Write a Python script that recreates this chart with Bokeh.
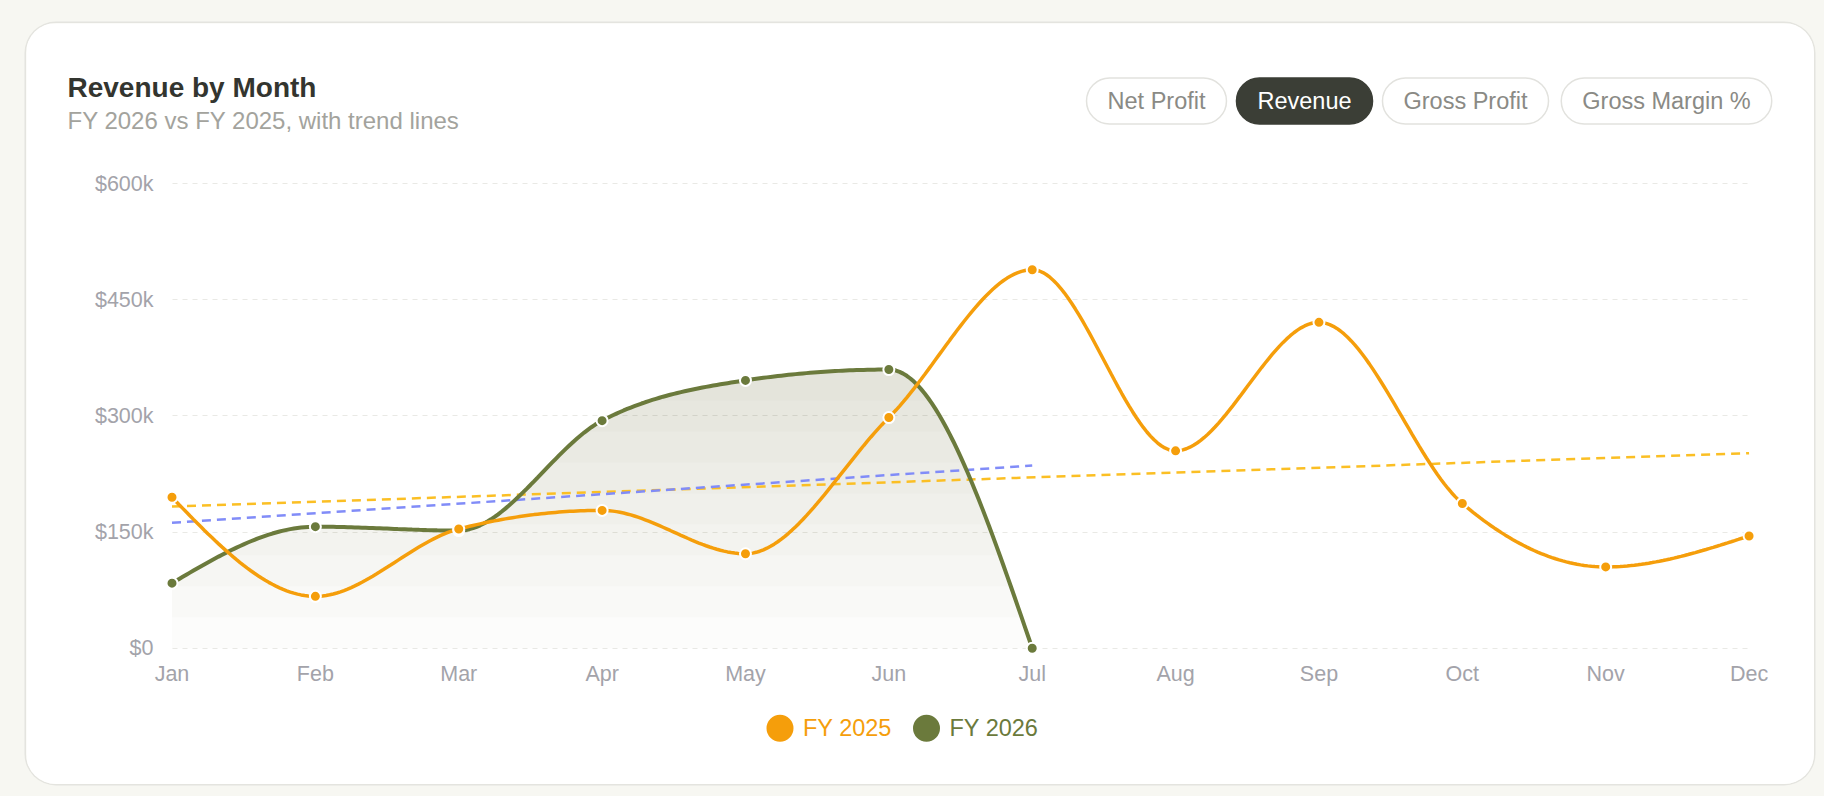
import numpy as np
from bokeh.plotting import figure
from bokeh.layouts import column
from bokeh.models import Range1d, FixedTicker, Label, BoxAnnotation
from bokeh.embed import file_html
from bokeh.resources import INLINE

# data
months = ["Jan", "Feb", "Mar", "Apr", "May", "Jun", "Jul", "Aug", "Sep", "Oct", "Nov", "Dec"]
fy2025 = [195000, 67000, 154000, 178000, 122000, 298000, 489000, 255000, 421000, 187000, 105000, 145000]
fy2026 = [84000, 157000, 152000, 294000, 346000, 360000, 0]
trend_2025 = [183000, 252000]   # Jan -> Dec
trend_2026 = [162000, 236000]   # Jan -> Jul
y_ticks = [0, 150000, 300000, 450000, 600000]
y_labels = ["$0", "$150k", "$300k", "$450k", "$600k"]
tabs = ["Net Profit", "Revenue", "Gross Profit", "Gross Margin %"]
active_tab = "Revenue"
series = ["FY 2025", "FY 2026"]

ORANGE = "#f59e0b"
OLIVE = "#6b7a3c"
AREA = "#787d4b"
TREND_ORANGE = "#fbbf24"
TREND_BLUE = "#818cf8"
PAGE_BG = "#f7f7f2"
FONT = "Liberation Sans"

# card geometry (pixels): the whole card is the plot frame
CARD_W, CARD_H = 1788, 761
X0_PX, PX_PER_MONTH = 145.5, 143.37      # where Jan sits, month spacing
Y0_PX, PX_PER_K = 624.7, 0.77404         # where $0 sits (from top), px per $1k


def smooth(ys, steps=40):
    # monotone cubic curve through the points (like d3 curveMonotoneX)
    y = np.asarray(ys, dtype=float)
    s = np.diff(y)
    m = np.zeros_like(y)
    for i in range(1, len(y) - 1):
        a, b = s[i - 1], s[i]
        m[i] = (np.sign(a) + np.sign(b)) * min(abs(a), abs(b), 0.25 * abs(a + b))
    m[0] = (3 * s[0] - m[1]) / 2
    m[-1] = (3 * s[-1] - m[-2]) / 2
    t = np.linspace(0, 1, steps, endpoint=False)
    h00 = 2 * t**3 - 3 * t**2 + 1
    h10 = t**3 - 2 * t**2 + t
    h01 = -2 * t**3 + 3 * t**2
    h11 = t**3 - t**2
    xs, out = [], []
    for i in range(len(y) - 1):
        xs.append(i + t)
        out.append(h00 * y[i] + h10 * m[i] + h01 * y[i + 1] + h11 * m[i + 1])
    xs.append([len(y) - 1])
    out.append([y[-1]])
    return np.concatenate(xs), np.concatenate(out)


p = figure(width=CARD_W, height=CARD_H, output_backend="svg", toolbar_location=None,
           x_range=Range1d(-X0_PX / PX_PER_MONTH, (CARD_W - X0_PX) / PX_PER_MONTH),
           y_range=Range1d(-(CARD_H - Y0_PX) / PX_PER_K * 1000, Y0_PX / PX_PER_K * 1000),
           min_border=0, background_fill_color="white", border_fill_color="white",
           outline_line_color=None, margin=(23, 0, 0, 26),
           styles={"border-radius": "30px", "overflow": "hidden",
                   "box-shadow": "0 0 0 1.5px #e4e4df"})

# gradient area under FY 2026 (stacked faint bands)
cx26, cy26 = smooth(fy2026)
for level in range(0, 600000, 40000):
    p.varea(x=cx26, y1=np.minimum(cy26, level), y2=cy26, fill_color=AREA, fill_alpha=0.025)

# trend lines
p.line([0, 11], trend_2025, line_color=TREND_ORANGE, line_width=2.5, line_dash="9 6")
p.line([0, 6], trend_2026, line_color=TREND_BLUE, line_width=2.5, line_dash="9 6")

# series lines
p.line(cx26, cy26, line_color=OLIVE, line_width=4)
cx25, cy25 = smooth(fy2025)
p.line(cx25, cy25, line_color=ORANGE, line_width=3.5)

p.scatter(list(range(len(fy2026))), fy2026, size=11, fill_color=OLIVE, line_color="white", line_width=2)
p.scatter(list(range(len(fy2025))), fy2025, size=11, fill_color=ORANGE, line_color="white", line_width=2)

# axes, pinned inside the card
p.xaxis.ticker = FixedTicker(ticks=list(range(len(months))))
p.xaxis.major_label_overrides = {i: m for i, m in enumerate(months)}
p.yaxis.ticker = FixedTicker(ticks=y_ticks)
p.yaxis.major_label_overrides = dict(zip(y_ticks, y_labels))
for ax in (p.xaxis[0], p.yaxis[0]):
    ax.axis_line_color = None
    ax.major_tick_line_color = None
    ax.minor_tick_line_color = None
    ax.major_label_text_color = "#a3a3aa"
    ax.major_label_text_font = FONT
    ax.major_label_text_font_size = "21.5px"
p.xaxis[0].fixed_location = -12000
p.xaxis[0].major_label_standoff = -1
p.yaxis[0].fixed_location = -0.08
p.yaxis[0].major_label_standoff = 1
p.xgrid.grid_line_color = None
p.ygrid.grid_line_color = "#e9e9e5"
p.ygrid.grid_line_dash = "5 5"
p.ygrid.ticker = FixedTicker(ticks=y_ticks)
if "cross_bounds" in p.ygrid[0].properties():
    p.ygrid[0].cross_bounds = (0, len(months) - 1)

# header: title, subtitle, tabs (screen px, y from the card bottom)
p.add_layout(Label(x=41, y=CARD_H - 63.5, x_units="screen", y_units="screen",
                   text="Revenue by Month", text_font=FONT, text_font_size="28px",
                   text_font_style="bold", text_color="#33352f", text_baseline="alphabetic"))
p.add_layout(Label(x=41, y=CARD_H - 96.5, x_units="screen", y_units="screen",
                   text="FY 2026 vs FY 2025, with trend lines", text_font=FONT,
                   text_font_size="24px", text_color="#a3a39d", text_baseline="alphabetic"))
tab_x = [1130, 1278, 1439, 1640]
for name, tx in zip(tabs, tab_x):
    on = name == active_tab
    p.add_layout(Label(x=tx, y=CARD_H - 77.5, x_units="screen", y_units="screen", text=name,
                       text_align="center", text_baseline="middle",
                       text_font=FONT, text_font_size="23.5px",
                       text_color="white" if on else "#8a8a85",
                       background_fill_color="#3b3e36" if on else "white",
                       border_line_color="#3b3e36" if on else "#e2e2de",
                       border_line_width=1.5, border_radius=24, padding=(21, 10)))

# legend
legend_x = [753.5, 900]
legend_y = CARD_H - 704.8
for name, color, lx in zip(series, [ORANGE, OLIVE], legend_x):
    p.add_layout(BoxAnnotation(left=lx - 13.5, right=lx + 13.5,
                               bottom=legend_y - 13.5, top=legend_y + 13.5,
                               left_units="screen", right_units="screen",
                               bottom_units="screen", top_units="screen",
                               border_radius=14, fill_color=color, fill_alpha=1.0,
                               line_color=None))
    p.add_layout(Label(x=lx + 23, y=legend_y, x_units="screen", y_units="screen", text=name,
                       text_baseline="middle", text_font=FONT, text_font_size="23.5px",
                       text_color=color))

page = column(p, width=1824, height=796, styles={"background-color": PAGE_BG})

open("out.html", "w").write(file_html(page, INLINE))
